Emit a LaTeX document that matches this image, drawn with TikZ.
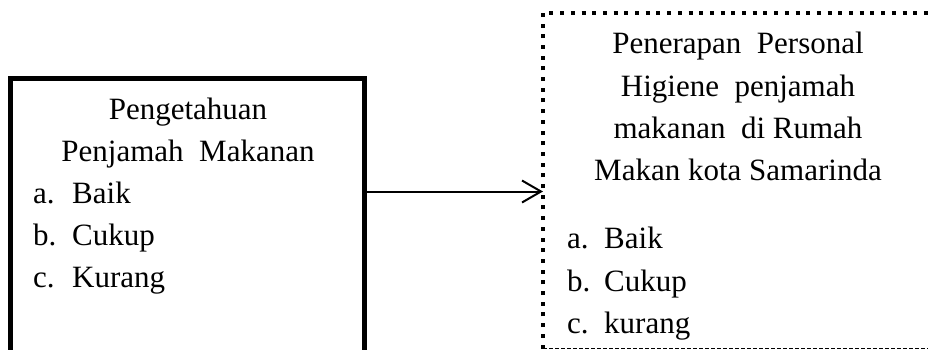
\documentclass[tikz,border=0pt]{standalone}
\usepackage{fontspec}
\setmainfont{Liberation Serif}
\usetikzlibrary{arrows.meta}
\begin{document}
\begin{tikzpicture}[x=1pt,y=-1pt,
  txt/.style={inner sep=0pt, anchor=base, font=\fontsize{31}{37}\selectfont},
  ltxt/.style={txt, anchor=base west},
  solidbox/.style={draw, line width=5pt, inner sep=0pt},
  dotline/.style={line width=4pt, dash pattern=on 4pt off 6.7pt},
  botline/.style={line width=1.3pt, dash pattern=on 3.5pt off 2.5pt},
  conn/.style={line width=2pt, -{Straight Barb[length=19pt,width=22pt,line width=2pt]}}]
\useasboundingbox (0,0) rectangle (928,349);
\clip (0,0) rectangle (928,349);
% left box
\node[solidbox, minimum width=353.7pt, minimum height=342pt] (lbox) at (187.65,249) {};
\node[txt] (l1) at (188,119.5) {Pengetahuan};
\node[txt] (l2) at (188,161) {Penjamah \ Makanan};
\node[ltxt] (la) at (33,203) {a.};
\node[ltxt] (lai) at (72,203) {Baik};
\node[ltxt] (lb) at (33,245) {b.};
\node[ltxt] (lbi) at (72,245) {Cukup};
\node[ltxt] (lc) at (33,287) {c.};
\node[ltxt] (lci) at (72,287) {Kurang};
% right box
\node[minimum width=400pt, minimum height=336pt, inner sep=0pt, outer sep=0pt] (rbox) at (743,180.5) {};
\draw[dotline] (rbox.south west) -- (rbox.north west) -- (rbox.north east);
\draw[botline] (rbox.south west) -- (rbox.south east);
\node[txt] (r1) at (738,53.3) {Penerapan \ Personal};
\node[txt] (r2) at (738,96.7) {Higiene \ penjamah};
\node[txt] (r3) at (738,138.3) {makanan \ di Rumah};
\node[txt] (r4) at (738,180) {Makan kota Samarinda};
\node[ltxt] (ra) at (567,248.3) {a.};
\node[ltxt] (rai) at (604,248.3) {Baik};
\node[ltxt] (rb) at (567,291.7) {b.};
\node[ltxt] (rbi) at (604,291.7) {Cukup};
\node[ltxt] (rc) at (567,333.3) {c.};
\node[ltxt] (rci) at (604,333.3) {kurang};
% connector
\coordinate (ay) at (0,191.5);
\draw[conn] (lbox.east |- ay) -- (rbox.west |- ay);
\end{tikzpicture}
\end{document}
